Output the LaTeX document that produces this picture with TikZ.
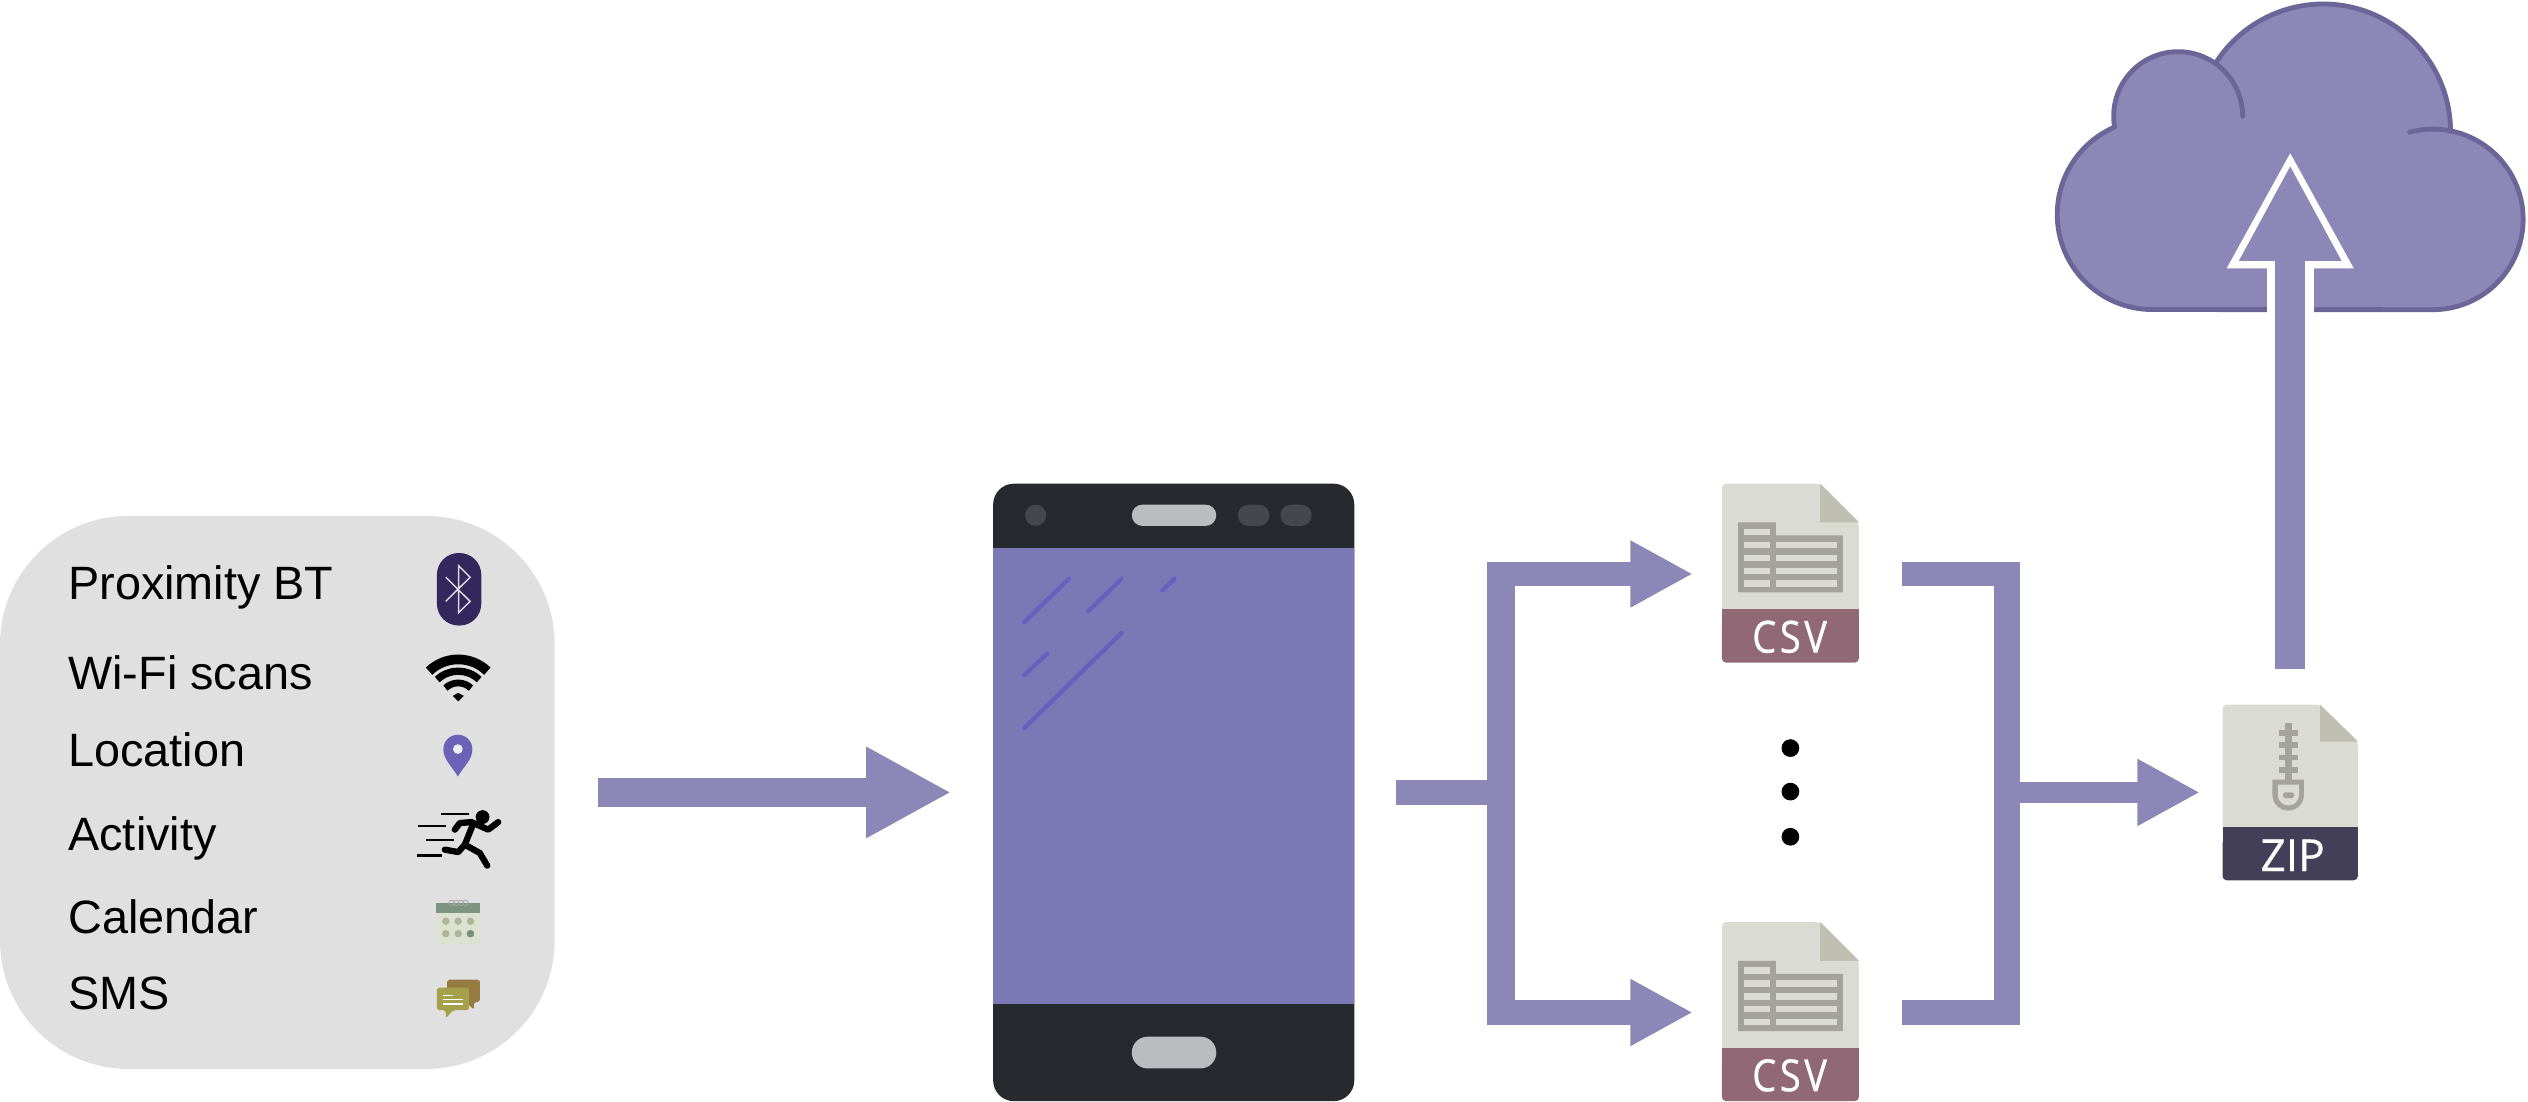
\documentclass[tikz,border=0pt]{standalone}
\usepackage{fontspec}
\setmainfont{Liberation Sans}
\newfontfamily\tagfont[FakeBold=0.5]{Open Sans}
\newfontfamily\csvfont[FakeStretch=0.86,LetterSpace=8,FakeBold=0.6]{Open Sans}
\usetikzlibrary{arrows.meta}

\def\pxu{0.01612cm}
\definecolor{flow}{HTML}{8B88B8}
\definecolor{cloudline}{HTML}{6C6598}
\definecolor{panel}{HTML}{E0E0E0}
\definecolor{phonedark}{HTML}{28292E}
\definecolor{phonescreen}{HTML}{7B78B6}
\definecolor{phonepill}{HTML}{BBBCC0}
\definecolor{phonebtn}{HTML}{46464F}
\definecolor{glare}{HTML}{6A5FBE}
\definecolor{filepage}{HTML}{DADBD3}
\definecolor{filefold}{HTML}{BFC0B2}
\definecolor{filetable}{HTML}{A3A39B}
\definecolor{csvband}{HTML}{906876}
\definecolor{zipband}{HTML}{443F58}

\tikzset{
  sensorbox/.style={fill=panel,rounded corners=36.5pt,minimum width=344*\pxu,minimum height=343*\pxu,inner sep=0pt,outer sep=0pt},
  sensorlabel/.style={anchor=base west,inner sep=0pt,font=\fontsize{13.3}{16}\selectfont},
  holder/.style={inner sep=0pt,outer sep=0pt,minimum width=#1*\pxu},
  filetag/.style={text=white,inner sep=0pt,font=\tagfont\fontsize{12.6}{15}\selectfont},
  csvtag/.style={text=white,inner sep=0pt,font=\csvfont\fontsize{12.6}{15}\selectfont},
  flowline/.style={draw=flow,line width=#1*\pxu},
  bigarrow/.style={draw=flow,line width=8.2pt,-{Triangle[length=24.2pt,width=24.2pt]}},
  smallarrow/.style={draw=flow,line width=6.85pt,-{Triangle[length=17.8pt,width=17.8pt]}},
  glareline/.style={draw=glare,line width=2.6*\pxu,line cap=round},
  speedline/.style={line width=1.4*\pxu},
  runnerlimb/.style={line width=3.9*\pxu,line cap=round,line join=round},
  cloudedge/.style={draw=cloudline,line width=3*\pxu,line cap=round}
}

\begin{document}
\begin{tikzpicture}[x=\pxu,y=-\pxu]
\useasboundingbox (0,0) rectangle (1568,683);

\node[sensorbox] (sensors) at (172,491.5) {};
\def\sensorlist{1/372/{Proximity BT},2/427.5/{Wi-Fi scans},3/475.7/{Location},4/527.5/{Activity},5/578.9/{Calendar},6/626.4/{SMS}}
\foreach \i / \y / \element in \sensorlist
  \node[sensorlabel] (label\i) at (42,\y) {\element};

\fill[fill={rgb,255:red,50;green,40;blue,94},rounded corners=13.5*\pxu] (271,343) rectangle (298.5,388);
\draw[white!85!black,line width=0.9*\pxu] (276.5,358) -- (291.6,373) -- (284.5,380) -- (284.5,351) -- (291.6,358) -- (276.5,373);

\draw[line width=6*\pxu] (284.2,435) ++(-46:26) arc[start angle=-46,end angle=-134,radius=26];
\draw[line width=4.5*\pxu] (284.2,435) ++(-46:18.7) arc[start angle=-46,end angle=-134,radius=18.7];
\draw[line width=4.2*\pxu] (284.2,435) ++(-46:11.4) arc[start angle=-46,end angle=-134,radius=11.4];
\fill (284.2,435) -- (280.8,431.6) -- (284.2,429.8) -- (287.6,431.6) -- cycle;

\fill[glare!90!gray] (284,481.6) .. controls (280,475) and (275,471) .. (275,464.7) arc[start angle=180,end angle=360,radius=9] .. controls (293,471) and (288,475) .. (284,481.6) -- cycle;
\fill[panel!50!white] (284,464.6) circle[radius=3];

\fill (299.3,506.8) circle[radius=4.3];
\draw[speedline] (273.8,504.9) -- (290.8,504.9);
\draw[speedline] (259.4,512.5) -- (276.5,512.5);
\draw[speedline] (264.5,521) -- (281.7,521);
\draw[speedline] (258.7,530.7) -- (274,530.7);
\draw[runnerlimb] (282.1,514.6) -- (285.2,510.5) -- (292.4,509.9) -- (302.8,514.6) -- (309,509.9);
\draw[runnerlimb] (293.5,511) -- (288.3,523.9) -- (284.2,528.5) -- (275.9,527);
\draw[runnerlimb] (288.3,523.9) -- (297.6,529.1) -- (302.2,536.9);

\fill[fill={rgb,255:red,221;green,225;blue,207}] (270.7,560) rectangle (297.6,585.3);
\fill[fill={rgb,255:red,124;green,148;blue,128}] (270.7,560) rectangle (297.6,566.1);
\foreach \x in {280,283,285.8,288.7}
  \draw[gray!70,line width=0.5*\pxu] (\x,560) circle[radius=1.7];
\foreach \x in {276.5,284.2,291.8}
  \foreach \y in {571.4,579.1}
    \fill[fill={rgb,255:red,175;green,179;blue,154}] (\x,\y) circle[radius=2.3];
\fill[fill={rgb,255:red,118;green,145;blue,127}] (291.8,579.1) circle[radius=2.3];

\fill[fill={rgb,255:red,149;green,123;blue,64},rounded corners=1.2*\pxu] (277.4,607.6) -- (297.6,607.6) -- (297.6,621.5) -- (293.9,621.5) -- (293.9,626.2) -- (289,621.5) -- (277.4,621.5) -- cycle;
\fill[fill={rgb,255:red,165;green,160;blue,74},rounded corners=1.2*\pxu] (271,612.6) -- (291,612.6) -- (291,626.6) -- (281,626.6) -- (276.5,631.6) -- (276.5,626.6) -- (271,626.6) -- cycle;
\draw[white,line width=0.7*\pxu] (274.9,617.3) -- (281,617.3);
\draw[white,line width=0.7*\pxu] (274.9,620) -- (287.3,620);
\draw[white,line width=0.7*\pxu] (274.9,622.7) -- (287.3,622.7);

\node[holder=224,minimum height=383*\pxu] (phone) at (728,491.5) {};
\fill[phonedark,rounded corners=5.9pt] (616,300) rectangle (840,683);
\fill[phonescreen] (616,339.6) rectangle (840,623);
\fill[phonepill,rounded corners=6.6*\pxu] (702,313) rectangle (754.4,326.2);
\fill[phonepill,rounded corners=9.8*\pxu] (702,643) rectangle (754.4,662.7);
\fill[phonebtn] (642.4,319.6) ellipse[x radius=6.6,y radius=6.6];
\fill[phonebtn,rounded corners=6.6*\pxu] (767.8,313) rectangle (787.4,326.2);
\fill[phonebtn,rounded corners=6.6*\pxu] (794.2,313) rectangle (813.6,326.2);
\draw[glareline] (635.2,386) -- (663,359);
\draw[glareline] (674.9,379.3) -- (695.7,359);
\draw[glareline] (720.9,366.2) -- (728.5,359);
\draw[glareline] (635.2,418.8) -- (649.7,405.4);
\draw[glareline] (635.2,451.7) -- (695.7,392.5);

\foreach \i / \y in {1/0,2/272} {
  \begin{scope}[shift={(0,\y)}]
    \node[holder=85,minimum height=111*\pxu] (csv\i) at (1110.5,356) {};
    \fill[filepage,rounded corners=1.2pt] (1068,385) -- (1068,300) -- (1129,300) -- (1153,324) -- (1153,385) -- cycle;
    \fill[filefold] (1129,300) -- (1153,324) -- (1129,324) -- cycle;
    \fill[csvband,rounded corners=1.2pt] (1068,385) -- (1068,411) -- (1153,411) -- (1153,385) -- cycle;
    \fill[csvband] (1068,378) rectangle (1153,390);
    \fill[filetable] (1078,324) -- (1101.5,324) -- (1101.5,332) -- (1143,332) -- (1143,367.5) -- (1078,367.5) -- cycle;
    \foreach \r in {328,336,344,352,360}
      \fill[filepage] (1081.6,\r) rectangle (1097.8,\r+4);
    \foreach \r in {336,344,352,360}
      \fill[filepage] (1101.5,\r) rectangle (1139.3,\r+4);
    \node[csvtag] (csvtag\i) at (1110,395) {CSV};
  \end{scope}
}

\foreach \i / \y in {1/464,2/491,3/519}
  \node[circle,fill=black,inner sep=0pt,minimum size=11*\pxu] (dot\i) at (1110.5,\y) {};

\node[holder=84,minimum height=109*\pxu] (zipfile) at (1420.5,491.5) {};
\fill[filepage,rounded corners=1.2pt] (1378.5,520) -- (1378.5,437) -- (1439,437) -- (1462.5,460) -- (1462.5,520) -- cycle;
\fill[filefold] (1439,437) -- (1462.5,460) -- (1439,460) -- cycle;
\fill[zipband,rounded corners=1.2pt] (1378.5,520) -- (1378.5,546) -- (1462.5,546) -- (1462.5,520) -- cycle;
\fill[zipband] (1378.5,513) rectangle (1462.5,525);
\fill[filetable] (1417.4,448.5) rectangle (1421.4,485);
\foreach \r in {452.6,460.3,468,475.8}
  \fill[filetable] (1413.6,\r) rectangle (1425.4,\r+3.7);
\fill[filetable] (1409.5,483.6) -- (1429,483.6) -- (1429,493) arc[start angle=0,end angle=180,radius=9.75] -- cycle;
\fill[filepage] (1412.8,486.7) -- (1426,486.7) -- (1426,493) arc[start angle=0,end angle=180,radius=6.6] -- cycle;
\fill[filetable,rounded corners=1.6*\pxu] (1416,491.5) rectangle (1423,495);
\node[filetag] (ziptag) at (1422,530.5) {ZIP};

\node[holder=292,minimum height=192*\pxu] (cloud) at (1421,97) {};
\fill[flow] (1335,192) arc[start angle=90,end angle=246,radius=59]
  -- (1311.5,78.3) arc[start angle=171,end angle=304,radius=40]
  -- (1375,38) arc[start angle=213.4,end angle=360,radius=79]
  -- (1520,81) arc[start angle=281,end angle=450,radius=56] -- cycle;
\draw[cloudedge] (1335,192) arc[start angle=90,end angle=246,radius=59]
  -- (1311.5,78.3) arc[start angle=171,end angle=360,radius=40];
\draw[cloudedge] (1375,38) arc[start angle=213.4,end angle=360,radius=79];
\draw[cloudedge] (1494.5,82) arc[start angle=255,end angle=450,radius=56] -- (1335,192);

\draw[bigarrow,shorten <=27*\pxu,shorten >=26*\pxu] (sensors.east) -- (phone.west);

\coordinate (split) at (931,491.5);
\coordinate (merge) at (1245,491.5);
\draw[flowline=16,shorten <=26*\pxu,shorten >=-7*\pxu] (phone.east) -- (split);
\draw[flowline=17,shorten <=-7.5*\pxu,shorten >=-7.5*\pxu] (csv1.west -| split) -- (csv2.west -| split);
\draw[smallarrow,shorten <=-8*\pxu,shorten >=18*\pxu] (csv1.west -| split) -- (csv1.west);
\draw[smallarrow,shorten <=-8*\pxu,shorten >=18*\pxu] (csv2.west -| split) -- (csv2.west);

\draw[flowline=15,shorten <=27*\pxu,shorten >=-8*\pxu] (csv1.east) -- (csv1.east -| merge);
\draw[flowline=15,shorten <=27*\pxu,shorten >=-8*\pxu] (csv2.east) -- (csv2.east -| merge);
\draw[flowline=16,shorten <=-7.5*\pxu,shorten >=-7.5*\pxu] (csv1.east -| merge) -- (csv2.east -| merge);
\draw[draw=flow,line width=6.2pt,-{Triangle[length=17.8pt,width=17.8pt]},shorten <=-8*\pxu,shorten >=14*\pxu] (merge) -- (zipfile.west);

\draw[draw=white,line width=13.3pt,-{Triangle[length=33.4pt,width=33.5pt]},shorten <=22*\pxu,shorten >=-3.4*\pxu] (zipfile.north) -- (zipfile.north |- cloud);
\draw[draw=flow,line width=8.5pt,-{Triangle[length=27.4pt,width=27pt]},shorten <=22*\pxu,shorten >=5*\pxu] (zipfile.north) -- (zipfile.north |- cloud);

\end{tikzpicture}
\end{document}
